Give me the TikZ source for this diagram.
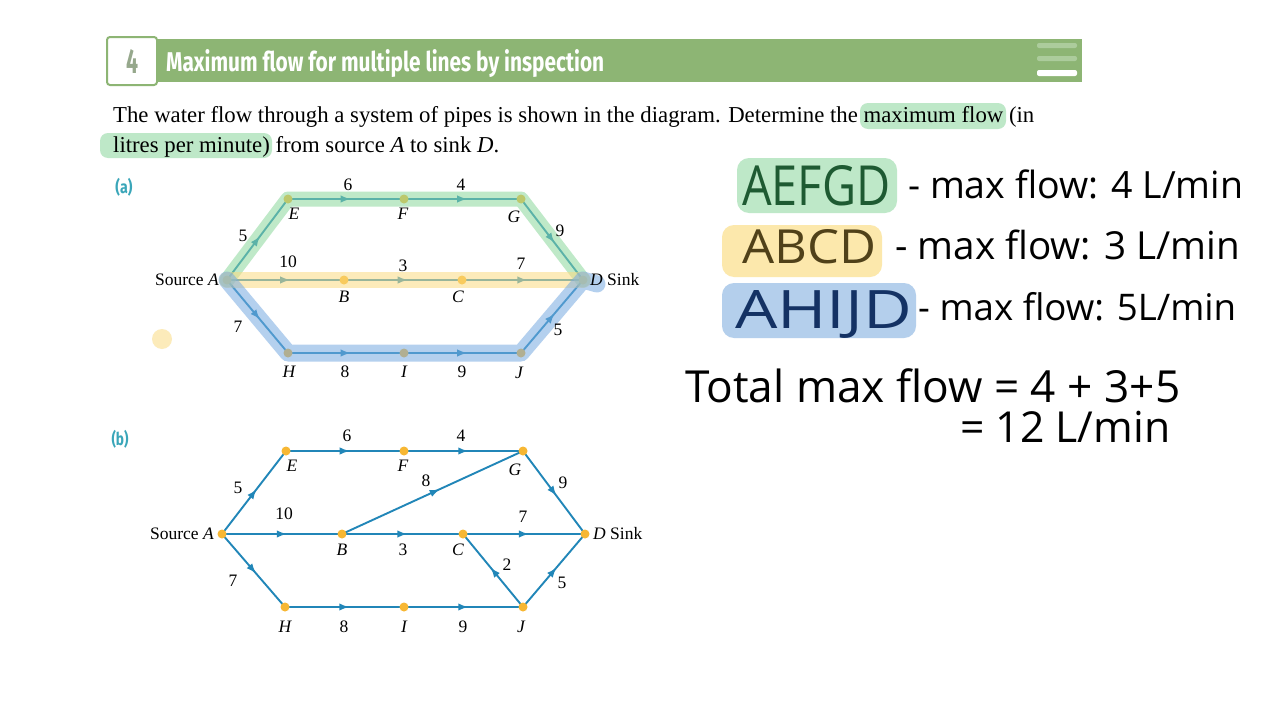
\documentclass[tikz,border=0pt]{standalone}
\usepackage{fontspec}
\setmainfont{Liberation Serif}
\newfontfamily\titlefont{Fira Sans}
\newfontfamily\handfont{Open Sans}
\usetikzlibrary{arrows.meta,decorations.markings}
\definecolor{hdrgreen}{RGB}{141,181,116}
\definecolor{hdrlight}{RGB}{172,204,156}
\definecolor{numgray}{RGB}{150,168,140}
\definecolor{edgeblue}{RGB}{33,134,184}
\definecolor{dotyellow}{RGB}{247,183,51}
\definecolor{labteal}{RGB}{58,166,185}
\definecolor{hlgreen}{RGB}{140,215,155}
\definecolor{hlyellow}{RGB}{250,220,130}
\definecolor{hlblue}{RGB}{120,170,225}
\definecolor{hwgreen}{RGB}{30,90,50}
\definecolor{hwyellow}{RGB}{80,65,25}
\definecolor{hwblue}{RGB}{20,50,100}
\definecolor{bggreen}{RGB}{190,232,200}
\definecolor{bgyellow}{RGB}{252,232,172}
\definecolor{bgblue}{RGB}{180,207,236}
\pgfdeclarelayer{bg}
\pgfsetlayers{bg,main}
\tikzset{
  dotnode/.style={circle, fill=dotyellow, inner sep=0pt, minimum size=9pt},
  flowedge/.style={draw=edgeblue, line width=1.9pt, postaction={decorate},
    decoration={markings, mark=at position 0.54 with {\arrow{Latex[length=10pt,width=7.5pt]}}}},
  lab/.style={font=\fontsize{17.5}{19}\selectfont, inner sep=0pt},
  nlab/.style={font=\fontsize{17.5}{19}\selectfont\itshape, inner sep=0pt},
  hlpath/.style={line width=15pt, line cap=round, line join=round, opacity=0.55},
  hw/.style={inner sep=0pt, anchor=base west},
}
\newcommand{\hwtext}[2]{\resizebox{#1pt}{!}{\handfont #2}}
\begin{document}
\begin{tikzpicture}[x=1pt,y=-1pt]
\begin{pgfonlayer}{bg}
\fill[white] (0,0) rectangle (1280,720);
\end{pgfonlayer}
\path[use as bounding box] (0,0) rectangle (1280,720);

% ---------- header ----------
\fill[hdrgreen] (107,39) rectangle (1082,82);
\node[draw=hdrgreen, line width=2pt, fill=white, rounded corners=3pt, minimum width=50pt, minimum height=48pt, inner sep=0pt] (numbox) at (132,61) {};
\node[inner sep=0pt, text=numgray] (num) at (132,61) {\resizebox{12pt}{24pt}{\titlefont\bfseries 4}};
\node[inner sep=0pt, anchor=base west, text=white] (title) at (166,71) {\resizebox{438pt}{22pt}{\titlefont\bfseries Maximum flow for multiple lines by inspection}};
\fill[hdrlight, rounded corners=2pt] (1037,43) rectangle (1077,48);
\fill[hdrlight, rounded corners=2pt] (1037,56) rectangle (1077,61);
\fill[white, rounded corners=2pt] (1037,70) rectangle (1077,76);

% ---------- paragraph ----------
\fill[bggreen, rounded corners=8pt] (860,103) rectangle (1006,129);
\fill[bggreen, rounded corners=8pt] (100,133) rectangle (272,158);
\node[inner sep=0pt, anchor=base west] (para1) at (113,122) {\resizebox{921pt}{!}{The water flow through a system of pipes is shown in the diagram. Determine the maximum flow (in}};
\node[inner sep=0pt, anchor=base west] (para2) at (113,152) {\resizebox{386pt}{!}{litres per minute) from source \textit{A} to sink \textit{D}.}};

% ---------- diagram (a) ----------
\node[inner sep=0pt, text=labteal] (alabel) at (124,187) {\resizebox*{17pt}{18pt}{\titlefont\bfseries (a)}};
\node[dotnode] (aA) at (227,280) {};
\node[dotnode] (aE) at (288,199) {};
\node[dotnode] (aF) at (404,199) {};
\node[dotnode] (aG) at (521,199) {};
\node[dotnode] (aD) at (583,280) {};
\node[dotnode] (aB) at (344,280) {};
\node[dotnode] (aC) at (462,280) {};
\node[dotnode] (aH) at (288,353) {};
\node[dotnode] (aI) at (404,353) {};
\node[dotnode] (aJ) at (521,353) {};
\begin{pgfonlayer}{bg}
\draw[flowedge] (aA.center) -- (aE.center);
\draw[flowedge] (aE.center) -- (aF.center);
\draw[flowedge] (aF.center) -- (aG.center);
\draw[flowedge] (aG.center) -- (aD.center);
\draw[flowedge] (aA.center) -- (aB.center);
\draw[flowedge] (aB.center) -- (aC.center);
\draw[flowedge] (aC.center) -- (aD.center);
\draw[flowedge] (aA.center) -- (aH.center);
\draw[flowedge] (aH.center) -- (aI.center);
\draw[flowedge] (aI.center) -- (aJ.center);
\draw[flowedge] (aJ.center) -- (aD.center);
\end{pgfonlayer}
% highlights
\draw[hlpath, hlgreen] (aA.center) -- (aE.center) -- (aF.center) -- (aG.center) -- (aD.center);
\draw[hlpath, hlyellow, line width=16pt] (aA.center) -- (aB.center) -- (aC.center) -- (aD.center);
\draw[hlpath, hlblue, line width=17pt] (aA.center) -- (aH.center) -- (aI.center) -- (aJ.center) -- (aD.center) -- ++(14,4);
\fill[hlyellow, opacity=0.55] (162,339) circle (10);
% labels
\node[lab] (a6) at (348,185) {6};
\node[lab] (a4) at (461,185) {4};
\node[lab] (a5) at (243,236) {5};
\node[lab] (a9) at (560,231) {9};
\node[lab] (a10) at (288,262) {10};
\node[lab] (a3) at (403,266) {3};
\node[lab] (a7) at (521,264) {7};
\node[lab] (a7b) at (238,327) {7};
\node[lab] (a5b) at (558,330) {5};
\node[lab] (a8) at (345,372) {8};
\node[lab] (a9b) at (462,372) {9};
\node[nlab] (lE) at (294,214) {E};
\node[nlab] (lF) at (403,214) {F};
\node[nlab] (lG) at (514,217) {G};
\node[nlab] (lB) at (344,297) {B};
\node[nlab] (lC) at (458,297) {C};
\node[nlab] (lH) at (289,372) {H};
\node[nlab] (lI) at (404,372) {I};
\node[nlab] (lJ) at (519,373) {J};
\node[lab, anchor=east] (srcA) at (219,280) {Source \textit{A}};
\node[lab, anchor=west] (snkD) at (590,280) {\textit{D} Sink};

% ---------- diagram (b) ----------
\node[inner sep=0pt, text=labteal] (blabel) at (120,439) {\resizebox*{17pt}{18pt}{\titlefont\bfseries (b)}};
\node[dotnode] (bA) at (222,534) {};
\node[dotnode] (bE) at (286,451) {};
\node[dotnode] (bF) at (404,451) {};
\node[dotnode] (bG) at (523,451) {};
\node[dotnode] (bD) at (585,534) {};
\node[dotnode] (bB) at (342,534) {};
\node[dotnode] (bC) at (463,534) {};
\node[dotnode] (bH) at (285,607) {};
\node[dotnode] (bI) at (404,607) {};
\node[dotnode] (bJ) at (523,607) {};
\begin{pgfonlayer}{bg}
\draw[flowedge] (bA.center) -- (bE.center);
\draw[flowedge] (bE.center) -- (bF.center);
\draw[flowedge] (bF.center) -- (bG.center);
\draw[flowedge] (bG.center) -- (bD.center);
\draw[flowedge] (bA.center) -- (bB.center);
\draw[flowedge] (bB.center) -- (bC.center);
\draw[flowedge] (bC.center) -- (bD.center);
\draw[flowedge] (bB.center) -- (bG.center);
\draw[flowedge] (bA.center) -- (bH.center);
\draw[flowedge] (bH.center) -- (bI.center);
\draw[flowedge] (bI.center) -- (bJ.center);
\draw[flowedge] (bJ.center) -- (bD.center);
\draw[flowedge] (bJ.center) -- (bC.center);
\end{pgfonlayer}
\node[lab] (b6) at (347,436) {6};
\node[lab] (b4) at (461,436) {4};
\node[lab] (b5) at (238,488) {5};
\node[lab] (b10) at (284,514) {10};
\node[lab] (b8) at (426,481) {8};
\node[lab] (b9) at (563,483) {9};
\node[lab] (b7) at (523,517) {7};
\node[lab] (b3) at (403,550) {3};
\node[lab] (b2) at (507,565) {2};
\node[lab] (b7b) at (233,581) {7};
\node[lab] (b5b) at (562,583) {5};
\node[lab] (b8b) at (344,627) {8};
\node[lab] (b9b) at (463,627) {9};
\node[nlab] (mE) at (292,466) {E};
\node[nlab] (mF) at (403,466) {F};
\node[nlab] (mG) at (515,470) {G};
\node[nlab] (mB) at (342,550) {B};
\node[nlab] (mC) at (458,550) {C};
\node[nlab] (mH) at (285,627) {H};
\node[nlab] (mI) at (404,627) {I};
\node[nlab] (mJ) at (521,627) {J};
\node[lab, anchor=east] (srcAb) at (214,534) {Source \textit{A}};
\node[lab, anchor=west] (snkDb) at (593,534) {\textit{D} Sink};

% ---------- handwriting ----------
\fill[bggreen, rounded corners=12pt] (737,158) rectangle (897,213);
\fill[bgyellow, rounded corners=12pt] (722,225) rectangle (882,277);
\fill[bgblue, rounded corners=12pt] (722,283) rectangle (916,338);
\node[hw, text=hwgreen] (h1a) at (742,205) {\resizebox{148pt}{40pt}{\handfont AEFGD}};
\node[hw] (h1b) at (908,198) {\hwtext{335}{- max flow: 4 L/min}};
\node[hw, text=hwyellow] (h2a) at (742,263) {\resizebox{134pt}{34pt}{\handfont ABCD}};
\node[hw] (h2b) at (895,259) {\hwtext{345}{- max flow: 3 L/min}};
\node[hw, text=hwblue] (h3a) at (735,328) {\resizebox{177pt}{38pt}{\handfont AHIJD}};
\node[hw] (h3b) at (918,320) {\hwtext{318}{- max flow: 5L/min}};
\node[hw] (h4) at (685,402) {\hwtext{495}{Total max flow = 4 + 3+5}};
\node[hw] (h5) at (960,442) {\hwtext{210}{= 12 L/min}};
\end{tikzpicture}
\end{document}
